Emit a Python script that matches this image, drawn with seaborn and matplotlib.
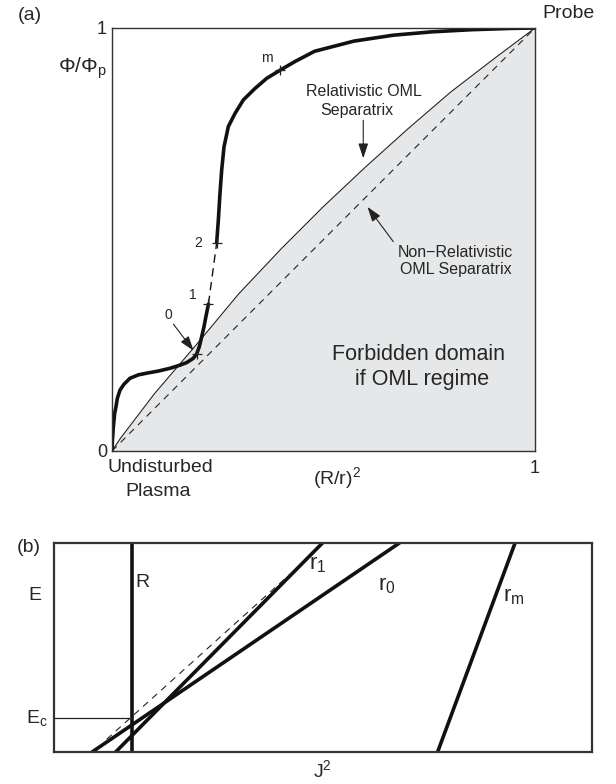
import numpy as np
import pandas as pd
import matplotlib
matplotlib.use("Agg")
import matplotlib.pyplot as plt
import seaborn as sns

sns.set_style("white")
plt.rcParams['font.family'] = ['Liberation Sans', 'DejaVu Sans']
plt.rcParams['mathtext.fontset'] = 'custom'
plt.rcParams['mathtext.rm'] = 'Liberation Sans'
plt.rcParams['mathtext.it'] = 'Liberation Sans:italic'

# ---------------- data: panel (a) ----------------
lower_x = [0.0, 0.001, 0.0032, 0.0063, 0.0095, 0.0126, 0.0189, 0.0284, 0.0426, 0.0623, 0.082,
           0.1095, 0.137, 0.161, 0.1765, 0.192, 0.200, 0.2064, 0.212, 0.2175, 0.222, 0.228]
lower_y = [0.0, 0.026, 0.0575, 0.089, 0.105, 0.1245, 0.144, 0.158, 0.172, 0.180, 0.184,
           0.189, 0.1955, 0.203, 0.209, 0.219, 0.229, 0.2466, 0.270, 0.294, 0.3175, 0.3475]
gap_x = [0.228, 0.2475]
gap_y = [0.3475, 0.4925]
upper_x = [0.2475, 0.2514, 0.2553, 0.2593, 0.2648, 0.275, 0.2908, 0.3105, 0.338, 0.3657, 0.397,
           0.433, 0.479, 0.572, 0.665, 0.757, 0.85, 0.943, 1.0]
upper_y = [0.4925, 0.546, 0.609, 0.664, 0.719, 0.767, 0.798, 0.830, 0.857, 0.881, 0.900,
           0.921, 0.945, 0.969, 0.983, 0.991, 0.996, 0.999, 1.0]
sep_rel_x = [0.0, 0.02, 0.1, 0.2, 0.3, 0.4, 0.5, 0.6, 0.7, 0.8, 0.9, 1.0]
sep_rel_y = [0.0, 0.03, 0.135, 0.252, 0.372, 0.478, 0.578, 0.672, 0.762, 0.848, 0.925, 1.0]
sep_nonrel_x = [0.0, 1.0]
sep_nonrel_y = [0.0, 1.0]
mark_labels = ["0", "1", "2", "m"]
mark_x = [0.200, 0.228, 0.2475, 0.397]
mark_y = [0.229, 0.3475, 0.4925, 0.900]

# ---------------- data: panel (b) ----------------
line_names = ["R", "r1", "r0", "rm"]
line_x0 = [0.145, 0.1146, 0.0708, 0.713]
line_x1 = [0.145, 0.499, 0.642, 0.857]
env_x = [0.098, 0.443]
env_y = [0.061, 0.861]
Ec_level = 0.163

fig = plt.figure(figsize=(6.16, 7.84), dpi=100)
W, H = 616.0, 784.0

def fx(x):
    return x / W

def fy(y):
    return 1 - y / H

LINE = dict(estimator=None, sort=False)
ARROW = dict(arrowstyle="-|>,head_length=0.9,head_width=0.3", color="#222222", lw=0.8,
             shrinkA=0, shrinkB=0)

# ---------------- panel (a) ----------------
ax = fig.add_axes([112 / W, 1 - 451 / H, 423 / W, 423 / H])
ax.fill_between(sep_rel_x, 0, sep_rel_y, color="#e6e7e9", lw=0, zorder=0)
sns.lineplot(x=sep_rel_x, y=sep_rel_y, ax=ax, color="#222222", lw=0.8, **LINE)
sns.lineplot(x=sep_nonrel_x, y=sep_nonrel_y, ax=ax, color="#222222", lw=0.8,
             linestyle=(0, (6, 5)), **LINE)
sns.lineplot(x=lower_x, y=lower_y, ax=ax, color="#111111", lw=2.6, **LINE)
sns.lineplot(x=gap_x, y=gap_y, ax=ax, color="#111111", lw=1.0,
             linestyle=(0, (6, 4)), **LINE)
sns.lineplot(x=upper_x, y=upper_y, ax=ax, color="#111111", lw=2.6, **LINE)
ax.scatter(mark_x, mark_y, marker="+", s=60, color="#222222", linewidths=0.9, zorder=5)

ax.set_xlim(0, 1)
ax.set_ylim(0, 1)
ax.set_xticks([])
ax.set_yticks([])
ax.set_xlabel("")
ax.set_ylabel("")
for s in ax.spines.values():
    s.set_linewidth(1.0)
    s.set_color("#333333")

ax.text(0.365, 0.93, "m", fontsize=10, ha="center", va="center")
ax.text(0.2135, 0.4925, "2", fontsize=10, ha="right", va="center")
ax.text(0.192, 0.369, "1", fontsize=10, ha="center", va="center")
ax.text(0.133, 0.322, "0", fontsize=10, ha="center", va="center")
ax.annotate("", xy=(0.193, 0.237), xytext=(0.145, 0.300), arrowprops=ARROW)
ax.text(0.595, 0.851, "Relativistic OML", fontsize=11.5, ha="center", va="center")
ax.text(0.578, 0.806, "Separatrix", fontsize=11.5, ha="center", va="center")
ax.annotate("", xy=(0.594, 0.692), xytext=(0.594, 0.782), arrowprops=ARROW)
ax.text(0.812, 0.470, "Non\u2212Relativistic", fontsize=11.5, ha="center", va="center")
ax.text(0.812, 0.428, "OML Separatrix", fontsize=11.5, ha="center", va="center")
ax.annotate("", xy=(0.604, 0.577), xytext=(0.665, 0.495), arrowprops=ARROW)
ax.text(0.725, 0.229, "Forbidden domain", fontsize=15.5, ha="center", va="center")
ax.text(0.734, 0.168, "if OML regime", fontsize=15.5, ha="center", va="center")

fig.text(fx(30), fy(15), "(a)", fontsize=14, ha="center", va="center")
fig.text(fx(568), fy(13), "Probe", fontsize=14, ha="center", va="center")
fig.text(fx(102), fy(29), "1", fontsize=13, ha="center", va="center")
fig.text(fx(102), fy(453), "0", fontsize=13, ha="center", va="center")
fig.text(fx(535), fy(468), "1", fontsize=13, ha="center", va="center")
fig.text(fx(82), fy(68), r"$\mathregular{\Phi/\Phi_p}$", fontsize=15, ha="center", va="center")
fig.text(fx(160), fy(467), "Undisturbed", fontsize=14, ha="center", va="center")
fig.text(fx(158), fy(491), "Plasma", fontsize=14, ha="center", va="center")
fig.text(fx(337), fy(478), r"$\mathregular{(R/r)^2}$", fontsize=14, ha="center", va="center")

# ---------------- panel (b) ----------------
bx = fig.add_axes([54 / W, 1 - 752 / H, 538 / W, 209 / H])
for name, x0, x1 in zip(line_names, line_x0, line_x1):
    df = pd.DataFrame({"x": [x0, x1], "y": [0.0, 1.0]})
    sns.lineplot(data=df, x="x", y="y", ax=bx, color="#111111", lw=2.6, **LINE)
sns.lineplot(x=env_x, y=env_y, ax=bx, color="#222222", lw=0.8,
             linestyle=(0, (6, 5)), **LINE)
sns.lineplot(x=[0.0, line_x0[0]], y=[Ec_level, Ec_level], ax=bx, color="#222222", lw=0.9, **LINE)
bx.set_xlim(0, 1)
bx.set_ylim(0, 1)
bx.set_xticks([])
bx.set_yticks([])
bx.set_xlabel("")
bx.set_ylabel("")
for s in bx.spines.values():
    s.set_linewidth(1.6)
    s.set_color("#333333")

bx.text(0.1636, 0.813, "R", fontsize=14, ha="center", va="center")
bx.text(0.491, 0.895, r"$\mathregular{r_1}$", fontsize=16, ha="center", va="center")
bx.text(0.619, 0.799, r"$\mathregular{r_0}$", fontsize=16, ha="center", va="center")
bx.text(0.855, 0.742, r"$\mathregular{r_m}$", fontsize=16, ha="center", va="center")

fig.text(fx(29), fy(547), "(b)", fontsize=14, ha="center", va="center")
fig.text(fx(35), fy(595), "E", fontsize=14, ha="center", va="center")
fig.text(fx(37), fy(718), r"$\mathregular{E_c}$", fontsize=14, ha="center", va="center")
fig.text(fx(322), fy(770), r"$\mathregular{J^2}$", fontsize=14, ha="center", va="center")

fig.savefig("out.png", dpi=100)
